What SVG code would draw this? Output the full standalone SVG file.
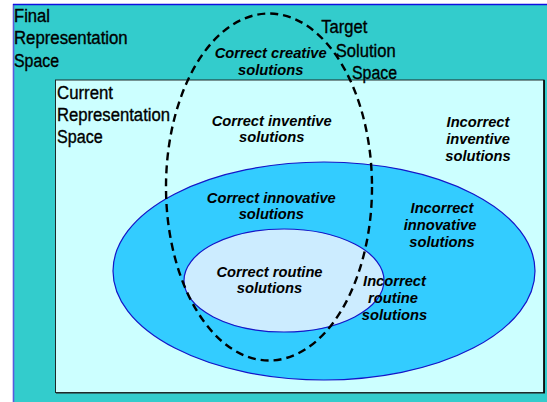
<svg xmlns="http://www.w3.org/2000/svg" width="547" height="402" viewBox="0 0 547 402">
<style>
.lbl{font-family:"Liberation Sans",Arial,sans-serif;font-size:18px;fill:#000;stroke:#000;stroke-width:0.35}
.it{font-family:"Liberation Sans",Arial,sans-serif;font-size:14.7px;font-weight:bold;font-style:italic;fill:#000;text-anchor:middle}
</style>
<rect width="547" height="402" fill="#fff"/>
<g id="final-space">
  <rect x="13.5" y="4.5" width="545" height="410" fill="#33CCCC" stroke="none"/>
  <line x1="13.5" y1="4" x2="13.5" y2="402" stroke="#5A5ADC" stroke-width="1.6"/>
  <line x1="13" y1="4.5" x2="547" y2="4.5" stroke="#1010E0" stroke-width="1.6"/>
  <text class="lbl" x="14" y="22" textLength="36" lengthAdjust="spacingAndGlyphs">Final</text>
  <text class="lbl" x="14" y="44.3" textLength="113.7" lengthAdjust="spacingAndGlyphs">Representation</text>
  <text class="lbl" x="14" y="66.6" textLength="45" lengthAdjust="spacingAndGlyphs">Space</text>
</g>
<g id="current-space">
  <rect x="56" y="81" width="489" height="313" fill="#2F7373"/>
  <rect x="55.5" y="80" width="488.5" height="312.5" fill="#CCFFFF" stroke="#1E2A2A" stroke-width="1"/>
  <line x1="544" y1="80" x2="544" y2="393" stroke="#000" stroke-width="1.5"/>
  <text class="lbl" x="57" y="99" textLength="56" lengthAdjust="spacingAndGlyphs">Current</text>
  <text class="lbl" x="57" y="121.2" textLength="113" lengthAdjust="spacingAndGlyphs">Representation</text>
  <text class="lbl" x="57" y="143.4" textLength="45.7" lengthAdjust="spacingAndGlyphs">Space</text>
</g>
<g id="innovative">
  <ellipse cx="324" cy="271" rx="211" ry="109" fill="#33CCFF" stroke="#1515C8" stroke-width="1.2"/>
</g>
<g id="routine">
  <ellipse cx="284" cy="280.5" rx="100" ry="51.5" fill="#CCECFF" stroke="#1515C8" stroke-width="1.2"/>
</g>
<g id="target-space">
  <ellipse cx="269" cy="187" rx="103" ry="173.5" fill="none" stroke="#000" stroke-width="2.4" stroke-dasharray="8,5"/>
  <text class="lbl" x="321.3" y="33.3" textLength="46" lengthAdjust="spacingAndGlyphs">Target</text>
  <text class="lbl" x="335.7" y="56.5" textLength="60" lengthAdjust="spacingAndGlyphs">Solution</text>
  <text class="lbl" x="352" y="79" textLength="45" lengthAdjust="spacingAndGlyphs">Space</text>
</g>
<g id="labels">
  <text class="it" x="270.7" y="58.3">Correct creative</text>
  <text class="it" x="270.7" y="75">solutions</text>
  <text class="it" x="271.7" y="126">Correct inventive</text>
  <text class="it" x="271.7" y="142">solutions</text>
  <text class="it" x="478" y="127">Incorrect</text>
  <text class="it" x="478" y="144">inventive</text>
  <text class="it" x="478" y="161">solutions</text>
  <text class="it" x="271.3" y="202.7">Correct innovative</text>
  <text class="it" x="271.3" y="218.5">solutions</text>
  <text class="it" x="442" y="213">Incorrect</text>
  <text class="it" x="440" y="230">innovative</text>
  <text class="it" x="442" y="247">solutions</text>
  <text class="it" x="269.5" y="276.7">Correct routine</text>
  <text class="it" x="269.5" y="293">solutions</text>
  <text class="it" x="394.5" y="286">Incorrect</text>
  <text class="it" x="393" y="302.5">routine</text>
  <text class="it" x="394.5" y="319.5">solutions</text>
</g>
</svg>
